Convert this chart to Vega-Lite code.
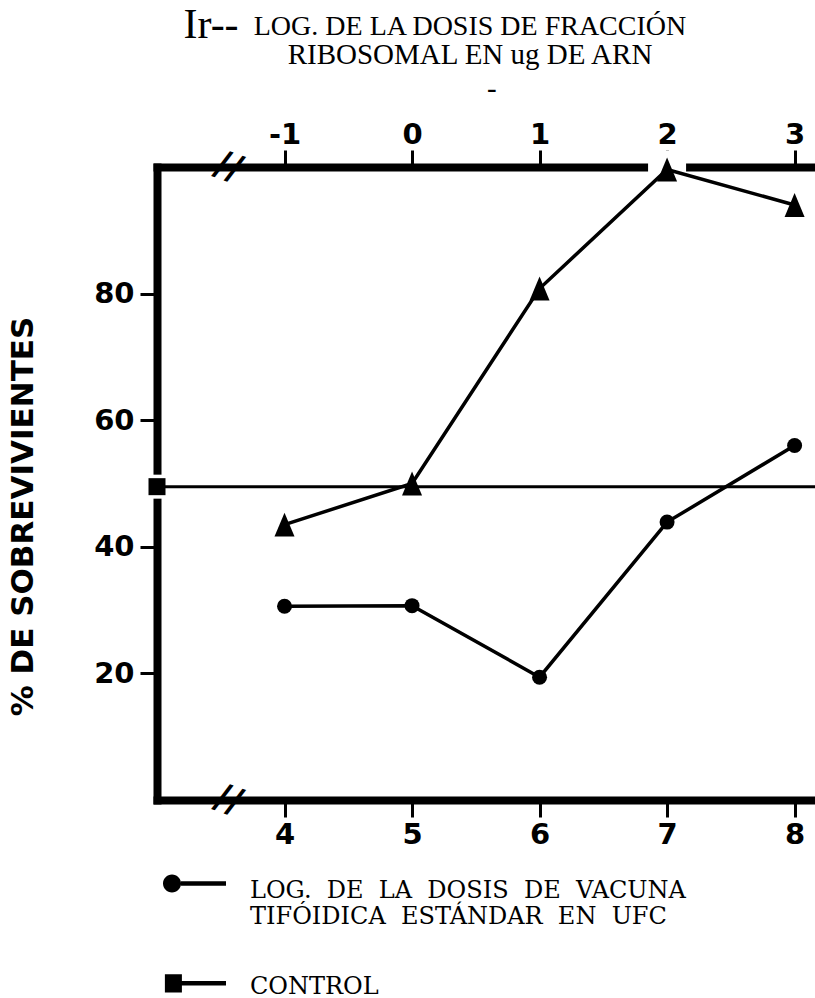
{
  "$schema": "https://vega.github.io/schema/vega-lite/v6.json",
  "width": 658,
  "height": 633,
  "autosize": {"type": "none"},
  "padding": {"left": 157, "top": 167, "right": 0, "bottom": 198},
  "background": "white",
  "datasets": {
    "vacuna": [
      {"dosis": 4, "pct": 30.6, "serie": "vacuna"},
      {"dosis": 5, "pct": 30.7, "serie": "vacuna"},
      {"dosis": 6, "pct": 19.4, "serie": "vacuna"},
      {"dosis": 7, "pct": 43.9, "serie": "vacuna"},
      {"dosis": 8, "pct": 56, "serie": "vacuna"}
    ],
    "control": [
      {"dosis": 3, "pct": 49.5, "serie": "control"}
    ],
    "ribosomal": [
      {"dosis": -1, "pct": 43.5},
      {"dosis": 0, "pct": 50},
      {"dosis": 1, "pct": 80.8},
      {"dosis": 2, "pct": 99.6},
      {"dosis": 3, "pct": 94}
    ],
    "breaks": [{"pct": 100}, {"pct": 0}]
  },
  "title": {
    "text": "LOG. DE LA DOSIS DE FRACCIÓN",
    "subtitle": ["RIBOSOMAL EN ug DE ARN", "\u200b\u2002\u2002\u2002-"],
    "anchor": "middle",
    "frame": "group",
    "dx": -16,
    "offset": -101,
    "font": "Liberation Serif",
    "fontSize": 28,
    "fontWeight": "normal",
    "color": "black",
    "subtitleFont": "Liberation Serif",
    "subtitleFontSize": 29,
    "subtitleColor": "black",
    "subtitlePadding": 0,
    "subtitleLineHeight": 34
  },
  "layer": [
    {
      "layer": [
        {
          "data": {"name": "control"},
          "mark": {"type": "point", "shape": "square", "filled": true, "size": 576, "color": "white", "opacity": 1},
          "encoding": {
            "x": {"field": "dosis", "type": "quantitative", "scale": {"domain": [3, 8.16]}, "title": null, "axis": {"values": [4, 5, 6, 7, 8], "format": "d"}},
            "y": {"field": "pct", "type": "quantitative", "scale": {"domain": [0, 100]}, "title": "% DE SOBREVIVIENTES", "axis": {"values": [20, 40, 60, 80]}}
          }
        },
        {
          "data": {"name": "breaks"},
          "mark": {"type": "text", "text": "//", "font": "DejaVu Sans", "fontWeight": "bold", "fontSize": 36, "angle": 20, "color": "black"},
          "encoding": {
            "x": {"datum": 3.56, "type": "quantitative", "scale": {"domain": [3, 8.16]}, "title": null},
            "y": {"field": "pct", "type": "quantitative", "scale": {"domain": [0, 100]}, "title": "% DE SOBREVIVIENTES", "axis": {"values": [20, 40, 60, 80]}}
          }
        },
        {
          "data": {"name": "control"},
          "mark": {"type": "rule", "strokeWidth": 3, "color": "black"},
          "encoding": {
            "y": {"field": "pct", "type": "quantitative", "scale": {"domain": [0, 100]}, "title": "% DE SOBREVIVIENTES", "axis": {"values": [20, 40, 60, 80]}}
          }
        },
        {
          "data": {"name": "vacuna"},
          "mark": {"type": "line", "strokeWidth": 3.5, "color": "black"},
          "encoding": {
            "x": {"field": "dosis", "type": "quantitative", "scale": {"domain": [3, 8.16]}, "title": null},
            "y": {"field": "pct", "type": "quantitative", "scale": {"domain": [0, 100]}, "title": "% DE SOBREVIVIENTES", "axis": {"values": [20, 40, 60, 80]}}
          }
        },
        {
          "data": {"name": "vacuna"},
          "mark": {"type": "point", "shape": "circle", "filled": true, "size": 225, "color": "black", "opacity": 1},
          "encoding": {
            "x": {"field": "dosis", "type": "quantitative", "scale": {"domain": [3, 8.16]}, "title": null},
            "y": {"field": "pct", "type": "quantitative", "scale": {"domain": [0, 100]}, "title": "% DE SOBREVIVIENTES", "axis": {"values": [20, 40, 60, 80]}}
          }
        },
        {
          "data": {"name": "control"},
          "mark": {"type": "point", "shape": "square", "filled": true, "size": 289, "color": "black", "opacity": 1},
          "encoding": {
            "x": {"field": "dosis", "type": "quantitative", "scale": {"domain": [3, 8.16]}, "title": null},
            "y": {"field": "pct", "type": "quantitative", "scale": {"domain": [0, 100]}, "title": "% DE SOBREVIVIENTES", "axis": {"values": [20, 40, 60, 80]}}
          }
        },
        {
          "data": {"name": "vacuna"},
          "mark": {"type": "point", "filled": true, "size": 3969, "color": "black", "opacity": 0},
          "encoding": {
            "x": {"field": "dosis", "type": "quantitative", "scale": {"domain": [3, 8.16]}, "title": null},
            "y": {"field": "pct", "type": "quantitative", "scale": {"domain": [0, 100]}, "title": "% DE SOBREVIVIENTES", "axis": {"values": [20, 40, 60, 80]}},
            "shape": {
              "field": "serie",
              "type": "nominal",
              "scale": {
                "domain": ["vacuna", "control"],
                "range": [
                  "M-1,0.16A0.286,0.286,0,1,1,-0.428,0.16A0.286,0.286,0,1,1,-1,0.16Z M-0.43,0.09L1,0.09L1,0.23L-0.43,0.23Z",
                  "M-0.94,-0.01L-0.4,-0.01L-0.4,0.57L-0.94,0.57Z M-0.42,0.21L1,0.21L1,0.35L-0.42,0.35Z"
                ]
              },
              "legend": {
                "orient": "none",
                "legendX": 6,
                "legendY": 680,
                "title": null,
                "direction": "vertical",
                "padding": 0,
                "rowPadding": 14,
                "symbolSize": 3969,
                "symbolOpacity": 1,
                "symbolFillColor": "black",
                "symbolStrokeColor": "transparent",
                "symbolStrokeWidth": 0,
                "labelFont": "DejaVu Serif",
                "labelFontSize": 24,
                "labelColor": "black",
                "labelLimit": 0,
                "labelOffset": 24,
                "labelBaseline": "top",
                "labelExpr": "datum.value == 'vacuna' ? ['LOG.\u00a0 DE\u00a0 LA\u00a0 DOSIS\u00a0 DE\u00a0 VACUNA', 'TIFÓIDICA\u00a0 ESTÁNDAR\u00a0 EN\u00a0 UFC'] : 'CONTROL'"
              }
            }
          }
        }
      ]
    },
    {
      "data": {"name": "ribosomal"},
      "layer": [
        {
          "transform": [{"filter": "datum.pct >= 99"}],
          "mark": {"type": "point", "shape": "square", "filled": true, "size": 1444, "color": "white", "opacity": 1},
          "encoding": {
            "x": {"field": "dosis", "type": "quantitative", "scale": {"domain": [-2, 3.16]}, "title": "Ir--", "axis": {"orient": "top", "values": [-1, 0, 1, 2, 3], "labelExpr": "datum.value < 0 ? '-' + abs(datum.value) : '' + datum.value"}},
            "y": {"field": "pct", "type": "quantitative", "scale": {"domain": [0, 100]}, "title": "% DE SOBREVIVIENTES", "axis": {"values": [20, 40, 60, 80]}}
          }
        },
        {
          "mark": {"type": "line", "strokeWidth": 3.5, "color": "black"},
          "encoding": {
            "x": {"field": "dosis", "type": "quantitative", "scale": {"domain": [-2, 3.16]}, "title": "Ir--"},
            "y": {"field": "pct", "type": "quantitative", "scale": {"domain": [0, 100]}, "title": "% DE SOBREVIVIENTES", "axis": {"values": [20, 40, 60, 80]}}
          }
        },
        {
          "mark": {"type": "point", "shape": "M0,-0.92L0.77,0.92L-0.77,0.92Z", "filled": true, "size": 676, "color": "black", "opacity": 1},
          "encoding": {
            "x": {"field": "dosis", "type": "quantitative", "scale": {"domain": [-2, 3.16]}, "title": "Ir--"},
            "y": {"field": "pct", "type": "quantitative", "scale": {"domain": [0, 100]}, "title": "% DE SOBREVIVIENTES", "axis": {"values": [20, 40, 60, 80]}}
          }
        }
      ]
    }
  ],
  "resolve": {"scale": {"x": "independent"}},
  "config": {
    "view": {"stroke": null},
    "axis": {
      "domainColor": "black",
      "domainWidth": 8,
      "domainCap": "square",
      "tickColor": "black",
      "tickWidth": 3,
      "tickSize": 17,
      "grid": false,
      "labelFont": "DejaVu Sans",
      "labelFontWeight": "bold",
      "labelFontSize": 29,
      "labelColor": "black",
      "labelFlush": false,
      "labelOverlap": false,
      "titleColor": "black"
    },
    "axisBottom": {"labelPadding": 3},
    "axisTop": {
      "labelPadding": 1,
      "titleX": 26,
      "titleY": -130,
      "titleAlign": "left",
      "titleBaseline": "alphabetic",
      "titleAngle": 0,
      "titleFont": "Liberation Serif",
      "titleFontSize": 42,
      "titleFontWeight": "normal"
    },
    "axisLeft": {
      "labelPadding": 6,
      "titleX": -134,
      "titleY": 349,
      "titleAngle": -90,
      "titleAlign": "center",
      "titleBaseline": "middle",
      "titleFont": "DejaVu Sans",
      "titleFontWeight": "bold",
      "titleFontSize": 31
    }
  }
}
